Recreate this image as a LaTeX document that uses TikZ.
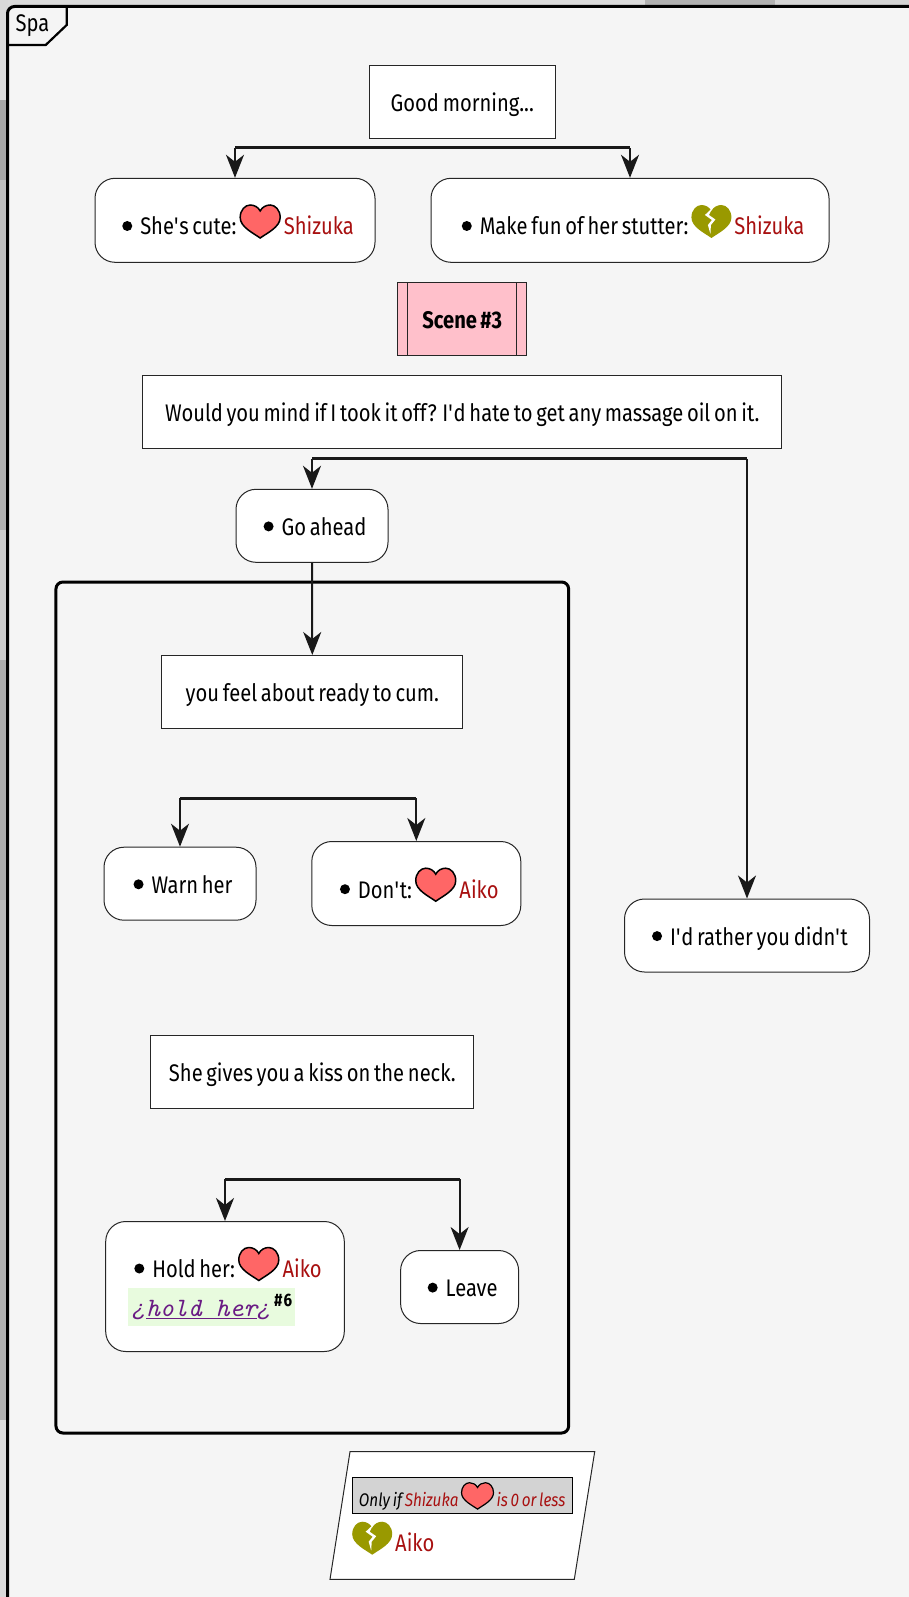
\documentclass[tikz,border=0pt]{standalone}
\usepackage{fontspec}
\setmainfont{Fira Sans}[FakeStretch=0.84,WordSpace=0.7]
\newfontfamily\qfont{Liberation Mono}
\usetikzlibrary{arrows.meta,calc,positioning}

\definecolor{panelgr}{HTML}{F5F5F5}
\definecolor{lovered}{HTML}{FF6666}
\definecolor{hateol}{HTML}{999900}
\definecolor{namered}{HTML}{A81010}
\definecolor{linkpur}{HTML}{6A1B84}
\definecolor{linkgr}{HTML}{E8FBDE}
\definecolor{condgr}{HTML}{D3D3D3}
\definecolor{pinkbx}{HTML}{FFC0CB}

\newcommand{\heartpath}{(0,0) .. controls (-7,5) and (-20,11) .. (-20,20.5) .. controls (-20,28) and (-15,33) .. (-10,33) .. controls (-6,33) and (-2,31) .. (0,27) .. controls (2,31) and (6,33) .. (10,33) .. controls (15,33) and (20,28) .. (20,20.5) .. controls (20,11) and (7,5) .. (0,0) -- cycle}
\newcommand{\luv}{\hspace{3pt}\tikz[baseline=3pt,x=1pt,y=1pt,sharp corners]{\draw [line width=1.5pt,fill=lovered,draw=black] \heartpath;}\hspace{3pt}}
\newcommand{\hate}{\hspace{3pt}\tikz[baseline=3pt,x=1pt,y=1pt,sharp corners]{
    \fill [hateol] \heartpath;
    \fill [white] (1,30) -- (-6.5,23) -- (0.5,18) -- (-3.5,13) -- (-1,4) -- (-0.5,13) -- (4,18.5) -- (-2.5,23) -- cycle;}\hspace{3pt}}
\newcommand{\bul}{\hspace{6pt}\tikz[baseline=-9pt,x=1pt,y=1pt]{\fill [black] (0,0) circle (5);}\hspace{8pt}}
\newcommand{\who}[1]{\textcolor{namered}{#1}}
\newcommand{\apo}{\textquotesingle}
\newcommand{\invq}{{\qfont\itshape\fontsize{23}{26}\selectfont ¿}}

\begin{document}
\begin{tikzpicture}[
        x=1pt,y=1pt,
        node distance=10pt,
        flow/.style={line width=2pt,draw=black!90,-{Stealth[length=23pt,width=18pt,inset=7pt]}},
        bar/.style={line width=3pt,draw=black!90},
        txtbox/.style={draw=black!85,fill=white,line width=1pt,minimum height=73pt,inner sep=0pt,
            text height=19.2pt,text depth=0pt,font=\fontsize{24}{26}\selectfont},
        optbox/.style={txtbox,rounded corners=20pt},
        tallbox/.style={optbox,minimum height=84pt,text height=29.4pt}
    ]
    \clip (0,0) rectangle (909,-1597);
    % photo showing round the panel
    \foreach \xa/\xb/\tint in {0/645/14,645/775/30,775/909/17}
        \fill [black!\tint] (\xa,0) rectangle (\xb,-8);
    \foreach \ya/\yb/\tint in {0/100/15,100/180/35,180/330/25,330/530/30,530/660/20,660/900/33,900/1240/27,1240/1420/30,1420/1597/15}
        \fill [black!\tint] (0,-\ya) rectangle (8,-\yb);
    % panel
    \draw [line width=3pt,fill=panelgr,rounded corners=7pt] (7.5,-1620) -- (7.5,-6.5) -- (930,-6.5) -- (930,-1620) -- cycle;
    \coordinate (tabtr) at (66.7,-6.5);
    \coordinate (tabbl) at (7.5,-45);
    \node (spa) at (32.5,-26) [font=\fontsize{24}{26}\selectfont] {Spa};
    \draw [line width=2.2pt] (tabtr) -- ++(0,-18.5) -- (45.7,-45) -- (tabbl);

    \node (good)  [txtbox,minimum width=186pt] at (462.3,-101.8) {Good morning...};
    \node (cute)  [tallbox,minimum width=280pt] at (235,-220.3)
        {\bul She\apo{}s cute:\luv\who{Shizuka}};
    \node (stut)  [tallbox,minimum width=398pt] at (630,-220.3)
        {\bul Make fun of her stutter:\hate\who{Shizuka}};
    \coordinate (goodl) at ($(cute.north)+(0,30)$);
    \coordinate (goodr) at ($(stut.north)+(0,30)$);
    \draw [bar]  (goodl) -- (goodr);
    \draw [flow] (goodl) -- (cute.north);
    \draw [flow] (goodr) -- (stut.north);

    \node (scene) [txtbox,fill=pinkbx,minimum width=129pt,font=\fontsize{24}{26}\selectfont\bfseries] at (462.2,-319) {Scene \#3};
    \draw [black!85,line width=1pt] ($(scene.north west)+(10.6,0)$) -- ($(scene.south west)+(10.6,0)$);
    \draw [black!85,line width=1pt] ($(scene.north east)+(-10.6,0)$) -- ($(scene.south east)+(-10.6,0)$);

    \node (mind)   [txtbox,minimum width=639pt] at (462.2,-411.7)
        {Would you mind if I took it off? I\apo{}d hate to get any massage oil on it.};
    \node (ahead)  [optbox,minimum width=152pt] at (312,-525.8) {\bul Go ahead};
    \node (rather) [optbox,minimum width=245pt] at (747,-935.5) {\bul I\apo{}d rather you didn\apo{}t};
    \coordinate (mindl) at ($(ahead.north)+(0,30)$);
    \coordinate (mindr) at (rather.north |- mindl);
    \draw [bar]  (mindl) -- (mindr);
    \draw [flow] (mindl) -- (ahead.north);
    \draw [flow] (mindr) -- (rather.north);

    % the group
    \node (grp) [draw,line width=3pt,rounded corners=7pt,minimum width=512.7pt,minimum height=851pt] at (312.3,-1007.5) {};
    \node (ready) [txtbox,minimum width=301pt] at (312.3,-692) {you feel about ready to cum.};
    \draw [flow] (ahead.south) -- (ready.north);

    \node (warn) [optbox,minimum width=152pt] at (180,-883.7) {\bul Warn her};
    \node (dont) [tallbox,minimum width=209pt] at (416.3,-883.5)
        {\bul Don\apo{}t:\luv\who{Aiko}};
    \coordinate (barwl) at (warn.north |- 0,-798);
    \coordinate (barwr) at (dont.north |- 0,-798);
    \draw [bar]  (barwl) -- (barwr);
    \draw [flow] (barwl) -- (warn.north);
    \draw [flow] (barwr) -- (dont.north);

    \node (kiss)  [txtbox,minimum width=323pt] at (312.3,-1072) {She gives you a kiss on the neck.};
    \node (hold)  [optbox,text height=,text depth=,minimum width=238.6pt,minimum height=130pt,align=left] at (225,-1286.5)
        {\bul Hold her:\luv\who{Aiko}\\[6pt]
         \setlength{\fboxsep}{0pt}\colorbox{linkgr}{\rule[-10pt]{0pt}{38pt}\hspace{4pt}{\color{linkpur}\invq\ttfamily\itshape\fontsize{26.5}{26}\selectfont\underline{hold her}\invq}\hspace{3pt}\raisebox{10pt}{\fontsize{18}{18}\selectfont\bfseries \#\hspace{1pt}6}\hspace{3pt}}};
    \node (leave) [optbox,minimum width=118pt] at (459.6,-1287) {\bul Leave};
    \coordinate (barkl) at (hold.north |- 0,-1179);
    \coordinate (barkr) at (leave.north |- 0,-1179);
    \draw [bar]  (barkl) -- (barkr);
    \draw [flow] (barkl) -- (hold.north);
    \draw [flow] (barkr) -- (leave.north);

    % the condition
    \coordinate (cna) at (350,-1451.7);
    \coordinate (cnb) at (594.7,-1451.7);
    \coordinate (cnc) at (574.3,-1579.3);
    \coordinate (cnd) at (330,-1579.3);
    \draw [black!85,fill=white,line width=1pt] (cna) -- (cnb) -- (cnc) -- (cnd) -- cycle;
    \node (only) [draw=black,fill=condgr,line width=1pt,minimum width=220.3pt,minimum height=36pt,inner sep=0pt,
        text height=22.8pt,text depth=0pt,font=\fontsize{18.2}{20}\selectfont\itshape] at (462.2,-1495.3)
        {Only if \who{Shizuka}\scalebox{.8}{\luv}\who{is 0 or less}};
    \node (chate) [anchor=base west,inner sep=0pt,font=\fontsize{24}{26}\selectfont] at (349,-1551.7) {\hate\who{Aiko}};
\end{tikzpicture}
\end{document}
